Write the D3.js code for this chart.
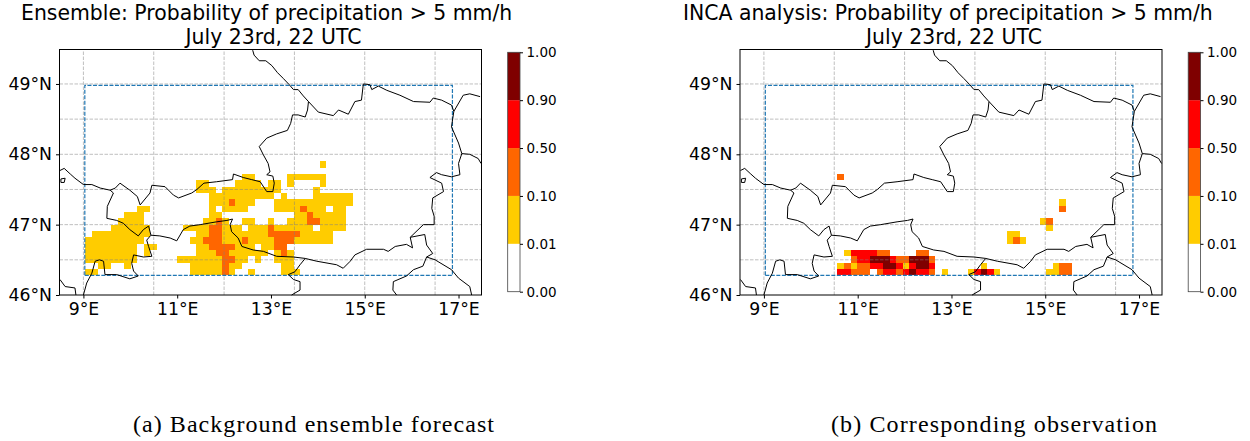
<!DOCTYPE html>
<html>
<head>
<meta charset="utf-8">
<script src="https://d3js.org/d3.v7.min.js"></script>
<style>
    body { margin: 0; background: #fff; }
    text { font-family: "DejaVu Sans", sans-serif; fill: #000; }
</style>
</head>
<body>
<div id="chart"></div>
<script>
// Tick labels and colour classes
const lonTicks = [9, 11, 13, 15, 17];
const latTicks = [46, 47, 48, 49];
const lonGrid = [9, 10.5, 12, 13.5, 15, 16.5];
const latGrid = [46.5, 47, 47.5, 48, 48.5, 49];
const binLabels = ["0.00", "0.01", "0.10", "0.50", "0.90", "1.00"];
const binColors = ["#ffffff", "#ffcc00", "#ff6600", "#ff0000", "#7f0000"];

// Forecast grid (cell size in degrees) and the dashed domain box
const gridLon0 = 9.04, gridDLon = 0.139, gridLat0 = 46.28, gridDLat = 0.09;
const domainBox = [[9.03, 46.28], [16.87, 46.28], [16.87, 48.98], [9.03, 48.98], [9.03, 46.28]];

// Probability classes, as runs: [row, first column, last column, class]
const ensembleRuns = [
    [0,0,1,1],[0,16,20,1],[0,21,21,2],[0,22,22,1],[0,25,25,1],[0,30,32,1],
    [1,2,3,1],[1,6,6,1],[1,16,20,1],[1,21,21,2],[1,22,23,1],[1,30,31,1],
    [2,0,7,1],[2,14,20,1],[2,21,22,2],[2,23,24,1],[2,26,26,1],[2,29,31,1],
    [3,0,7,1],[3,9,9,1],[3,17,19,1],[3,20,21,2],[3,22,27,1],[3,29,29,1],[3,30,30,2],[3,31,31,1],
    [4,0,7,1],[4,9,10,1],[4,17,18,1],[4,19,22,2],[4,23,25,1],[4,27,28,1],[4,29,30,2],
    [5,0,8,1],[5,16,17,1],[5,18,20,2],[5,21,23,1],[5,24,24,2],[5,25,28,1],[5,29,31,2],[5,32,37,1],
    [6,1,9,1],[6,17,18,1],[6,19,20,2],[6,21,27,1],[6,28,32,2],[6,33,37,1],
    [7,4,9,1],[7,15,18,1],[7,19,20,2],[7,21,23,1],[7,25,27,1],[7,28,28,2],[7,29,34,1],[7,36,39,1],
    [8,5,8,1],[8,18,19,1],[8,20,20,2],[8,21,21,1],[8,24,25,1],[8,28,28,1],[8,31,33,1],[8,34,35,2],[8,36,39,1],
    [9,6,8,1],[9,19,20,1],[9,32,33,1],[9,34,34,2],[9,35,39,1],
    [10,8,9,1],[10,19,19,1],[10,21,24,1],[10,29,32,1],[10,33,33,2],[10,34,36,1],[10,38,39,1],
    [11,19,21,1],[11,22,22,2],[11,23,25,1],[11,29,40,1],
    [12,19,28,1],[12,30,30,1],[12,35,40,1],
    [13,17,19,1],[13,21,29,1],[13,35,35,1],
    [14,17,18,1],[14,23,26,1],[14,28,29,1],[14,31,31,1],[14,36,36,1],
    [15,24,25,1],[15,31,36,1],
    [17,36,36,1]
];
const incaRuns = [
    [0,11,12,3],[0,13,15,2],[0,17,17,2],[0,18,19,3],[0,20,20,2],[0,21,21,3],[0,22,22,4],[0,23,24,3],[0,25,25,2],
    [0,27,27,1],[0,31,31,1],[0,32,32,3],[0,33,33,4],[0,34,34,3],[0,35,35,1],[0,43,44,1],[0,45,46,2],
    [1,11,11,1],[1,12,12,2],[1,13,13,1],[1,14,15,2],[1,16,17,3],[1,18,19,4],[1,20,20,3],[1,21,21,1],[1,22,22,3],
    [1,23,24,4],[1,25,25,3],[1,33,33,1],[1,44,44,1],[1,45,46,2],
    [2,13,13,2],[2,14,15,3],[2,16,18,4],[2,19,19,3],[2,20,21,2],[2,22,24,4],[2,25,25,2],
    [3,12,12,1],[3,13,16,3],[3,17,18,2],[3,23,24,2],
    [5,37,37,1],[5,38,38,2],[5,39,39,1],
    [6,37,38,1],
    [7,43,43,1],
    [8,42,42,1],[8,43,43,2],
    [10,45,45,2],
    [11,45,45,1],
    [15,11,11,2]
];

// Country borders as [lon, lat] polylines
const borders = [
    [[12.61,49.48],[12.64,49.41],[12.75,49.33],[12.89,49.33],[13.02,49.26],[13.14,49.16],[13.26,49.08],[13.39,48.99],
     [13.48,48.92],[13.58,48.92],[13.69,48.83],[13.80,48.75],[13.78,48.63],[13.73,48.53],[13.58,48.56],[13.46,48.56],
     [13.42,48.44],[13.35,48.34],[13.12,48.29],[12.91,48.23],[12.75,48.11],[12.84,47.99],[12.94,47.87],[12.98,47.75],
     [12.91,47.71],[13.04,47.69],[13.07,47.59],[13.04,47.47],[12.91,47.47],[12.77,47.61],[12.59,47.64],[12.41,47.67],
     [12.20,47.72],[12.18,47.64],[11.84,47.61],[11.57,47.59],[11.42,47.50],[11.31,47.45],[11.03,47.38],[10.92,47.42],
     [10.74,47.54],[10.46,47.56],[10.42,47.45],[10.21,47.28],[10.15,47.40],[9.99,47.49],[9.78,47.59],[9.68,47.52],[9.57,47.49],
     [9.64,47.45],[9.51,47.26],[9.50,47.09],[9.71,47.06],[9.85,47.02],[9.99,46.93],[10.17,46.84],[10.28,46.93],[10.39,46.98],
     [10.44,46.85],[10.63,46.84],[10.85,46.81],[10.99,46.77],[11.13,46.93],[11.27,46.98],[11.49,47.00],[11.84,47.04],
     [12.06,47.06],[12.18,47.08],[12.13,47.00],[12.16,46.90],[12.30,46.81],[12.38,46.69],[12.62,46.64],[12.84,46.62],
     [13.12,46.55],[13.48,46.54],[13.73,46.52],[13.98,46.48],[14.40,46.43],[14.54,46.38],[14.69,46.48],[14.79,46.57],
     [15.04,46.65],[15.40,46.65],[15.50,46.62],[15.65,46.69],[15.89,46.72],[16.02,46.67]],
    [[9.57,47.49],[9.36,47.52],[9.18,47.57],[9.00,47.57],[8.82,47.66],[8.72,47.72],[8.59,47.80],[8.50,47.77]],
    [[8.52,47.65],[8.61,47.66],[8.59,47.60],[8.52,47.60],[8.52,47.65]],
    [[13.80,48.75],[14.01,48.60],[14.33,48.55],[14.44,48.63],[14.65,48.57],[14.79,48.75],[14.93,48.77],[14.97,49.00],
     [15.11,48.99],[15.15,48.92],[15.29,48.97],[15.47,48.91],[15.75,48.84],[16.04,48.75],[16.39,48.74],[16.46,48.80],
     [16.64,48.77],[16.85,48.70],[16.90,48.61],[17.10,48.84],[17.24,48.86],[17.46,48.82]],
    [[16.90,48.61],[16.85,48.39],[17.00,48.16],[17.07,48.01],[17.00,47.87],[17.03,47.71],[16.85,47.68],[16.64,47.71],
     [16.53,47.74],[16.39,47.67],[16.64,47.59],[16.68,47.47],[16.45,47.38],[16.43,47.23],[16.48,47.12],[16.48,47.00],
     [16.25,47.00],[15.97,46.82],[16.02,46.67]],
    [[17.07,48.01],[17.24,48.00],[17.42,47.94],[17.48,47.87]],
    [[15.97,46.82],[16.28,46.86],[16.32,46.71],[16.45,46.59],[16.32,46.54],[16.50,46.50],[16.85,46.36],[17.00,46.24],[17.24,46.12],[17.28,46.00]],
    [[16.32,46.54],[16.24,46.41],[16.04,46.36],[15.89,46.27],[15.61,46.19],[15.60,46.07],[15.68,46.00]],
    [[10.44,46.85],[10.35,46.78],[10.39,46.69],[10.46,46.55],[10.28,46.54],[10.07,46.57],[10.03,46.45],[10.07,46.34],
     [10.17,46.27],[9.99,46.23],[9.71,46.29],[9.46,46.29],[9.43,46.48],[9.34,46.50],[9.25,46.48],[9.18,46.31],[9.07,46.17],[9.00,46.00]],
    [[8.50,46.22],[8.61,46.12],[8.82,46.10],[8.84,46.00]],
    [[13.73,46.52],[13.62,46.43],[13.51,46.33],[13.37,46.29],[13.48,46.22],[13.62,46.19],[13.62,46.07],[13.44,46.00]]
];

// Set dimensions
const width = 1250, height = 441;
const panelShift = 680.5;

const svg = d3.select("#chart")
    .append("svg")
    .attr("width", width)
    .attr("height", height)
    .style("display", "block");

// Map scales, shared by both panels
const x = d3.scaleLinear().domain([8.49, 17.49]).range([59.5, 481.5]);
const y = d3.scaleLinear().domain([46, 49.49]).range([295, 49.5]);
const barY = d3.scaleLinear().domain([0, binLabels.length - 1]).range([291.7, 52.3]);

const line = d3.line().x(d => x(d[0])).y(d => y(d[1]));

function drawPanel(shift, runs, titleText, titleX, captionText, captionWidth) {
    const g = svg.append("g").attr("transform", `translate(${shift},0)`);

    // Expand the runs into cells
    const cells = runs.flatMap(([row, first, last, bin]) =>
        d3.range(first, last + 1).map(col => ({ row, col, bin })));

    g.selectAll("rect.cell")
        .data(cells)
        .enter()
        .append("rect")
        .attr("class", "cell")
        .attr("x", d => x(gridLon0 + d.col * gridDLon))
        .attr("y", d => y(gridLat0 + (d.row + 1) * gridDLat))
        .attr("width", d => x(gridLon0 + (d.col + 1) * gridDLon) - x(gridLon0 + d.col * gridDLon))
        .attr("height", d => y(gridLat0 + d.row * gridDLat) - y(gridLat0 + (d.row + 1) * gridDLat))
        .attr("fill", d => binColors[d.bin])
        .attr("shape-rendering", "crispEdges");

    // Gridlines
    g.selectAll("line.vgrid")
        .data(lonGrid)
        .enter()
        .append("line")
        .attr("x1", d => x(d)).attr("x2", d => x(d))
        .attr("y1", y.range()[0]).attr("y2", y.range()[1])
        .attr("stroke", "gray").attr("stroke-opacity", 0.5).attr("stroke-dasharray", "3.5,1.5");
    g.selectAll("line.hgrid")
        .data(latGrid)
        .enter()
        .append("line")
        .attr("x1", x.range()[0]).attr("x2", x.range()[1])
        .attr("y1", d => y(d)).attr("y2", d => y(d))
        .attr("stroke", "gray").attr("stroke-opacity", 0.5).attr("stroke-dasharray", "3.5,1.5");

    // Dashed domain box
    g.append("path")
        .datum(domainBox)
        .attr("fill", "none")
        .attr("stroke", "#1f77b4")
        .attr("stroke-width", 1.2)
        .attr("stroke-dasharray", "4,1.5")
        .attr("d", line);

    // Borders
    g.selectAll("path.border")
        .data(borders)
        .enter()
        .append("path")
        .attr("fill", "none")
        .attr("stroke", "#000")
        .attr("stroke-width", 1)
        .attr("d", line);

    // Axes
    g.append("g")
        .attr("transform", `translate(0,${y.range()[0]})`)
        .call(d3.axisBottom(x).tickValues(lonTicks).tickFormat(d => d + "°E").tickSize(3.5).tickPadding(4))
        .call(a => a.select(".domain").remove())
        .selectAll("text").style("font-size", "17.3px");
    g.append("g")
        .attr("transform", `translate(${x.range()[0]},0)`)
        .call(d3.axisLeft(y).tickValues(latTicks).tickFormat(d => d + "°N").tickSize(3.5).tickPadding(4))
        .call(a => a.select(".domain").remove())
        .selectAll("text").style("font-size", "17.3px");

    // Map frame
    g.append("rect")
        .attr("x", x.range()[0]).attr("y", y.range()[1])
        .attr("width", x.range()[1] - x.range()[0])
        .attr("height", y.range()[0] - y.range()[1])
        .attr("fill", "none").attr("stroke", "#000").attr("stroke-width", 1);

    // Colour bar
    const barX = 507.7, barW = 12.3;
    g.selectAll("rect.bin")
        .data(binColors)
        .enter()
        .append("rect")
        .attr("x", barX)
        .attr("y", (d, i) => barY(i + 1))
        .attr("width", barW)
        .attr("height", (d, i) => barY(i) - barY(i + 1))
        .attr("fill", d => d);
    g.append("rect")
        .attr("x", barX).attr("y", barY.range()[1])
        .attr("width", barW).attr("height", barY.range()[0] - barY.range()[1])
        .attr("fill", "none").attr("stroke", "#444").attr("stroke-width", 0.8);
    g.append("g")
        .attr("transform", `translate(${barX + barW},0)`)
        .call(d3.axisRight(barY).tickValues(d3.range(binLabels.length)).tickFormat(i => binLabels[i]).tickSize(3).tickPadding(3.5))
        .call(a => a.select(".domain").remove())
        .selectAll("text").style("font-size", "13.5px");

    // Titles
    g.append("text")
        .attr("x", titleX).attr("y", 19.5)
        .style("font-size", "20.4px")
        .text(titleText);
    g.append("text")
        .attr("x", 273.5).attr("y", 43.5)
        .attr("text-anchor", "middle")
        .style("font-size", "20.4px")
        .text("July 23rd, 22 UTC");

    // Caption under the panel
    g.append("text")
        .attr("x", 313.5).attr("y", 432)
        .attr("text-anchor", "middle")
        .attr("textLength", captionWidth)
        .attr("lengthAdjust", "spacing")
        .style("font-family", "'Liberation Serif', serif")
        .style("font-size", "24px")
        .text(captionText);
}

drawPanel(0, ensembleRuns, "Ensemble: Probability of precipitation > 5 mm/h", 21, "(a) Background ensemble forecast", 361);
drawPanel(panelShift, incaRuns, "INCA analysis: Probability of precipitation > 5 mm/h", 2.5, "(b) Corresponding observation", 326);
</script>
</body>
</html>
